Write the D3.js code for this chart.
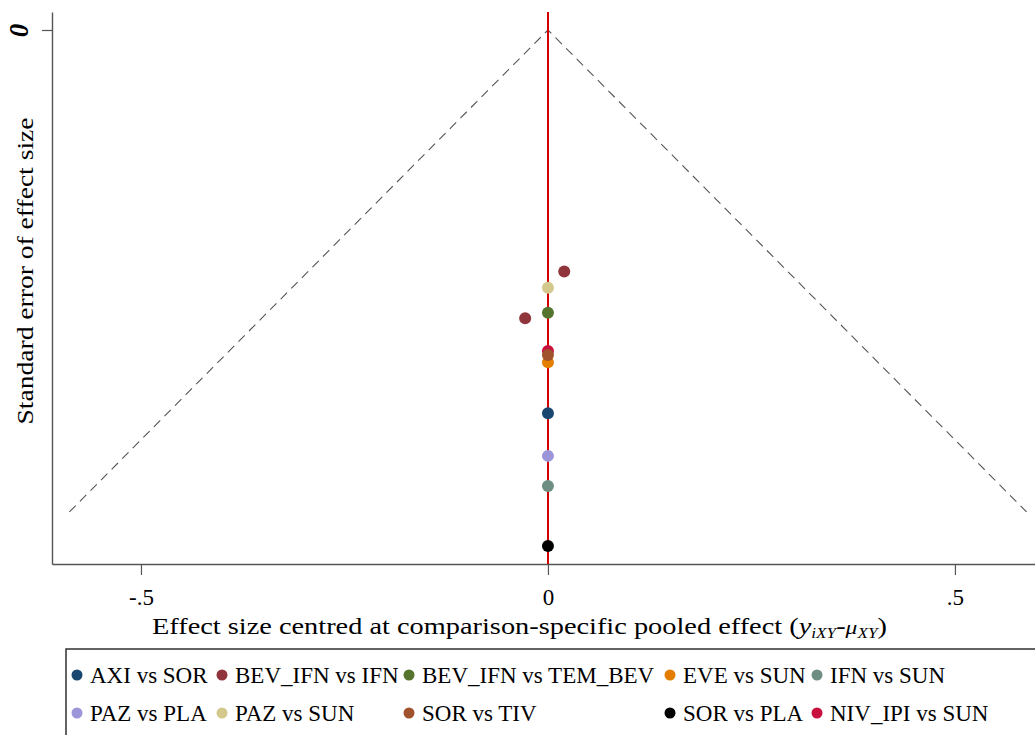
<!DOCTYPE html>
<html>
<head>
<meta charset="utf-8">
<script src="https://cdn.jsdelivr.net/npm/d3@7"></script>
<style>
  html, body { margin: 0; padding: 0; background: #fff; }
  svg { display: block; }
  svg text { font-family: "Times New Roman", Times, "Liberation Serif", Tinos, serif; }
</style>
</head>
<body>
<svg id="chart" width="1035" height="735"></svg>
<script>
// Comparison-adjusted funnel plot: effect sizes centred at each comparison's pooled effect
const comparisons = ["AXI vs SOR", "BEV_IFN vs IFN", "BEV_IFN vs TEM_BEV", "EVE vs SUN", "IFN vs SUN",
                     "PAZ vs PLA", "PAZ vs SUN", "SOR vs TIV", "SOR vs PLA", "NIV_IPI vs SUN"];
const colors = ["#1a476f", "#90353b", "#55752f", "#e37e00", "#6e8e84",
                "#9b96d9", "#d3c98c", "#a0522d", "#000000", "#c8103e"];
// centred effect (x) and standard error (y) of each study, per comparison
const effects = [[0], [0.020, -0.028], [0], [0], [0], [0], [0], [0], [0], [0]];
const stdErrors = [[0.2386], [0.1504, 0.1794], [0.1760], [0.2068], [0.2838],
                   [0.2651], [0.1604], [0.2023], [0.3212], [0.1998]];
const xTicks = [-0.5, 0, 0.5];
const xTickLabels = ["-.5", "0", ".5"];
const yTicks = [0];
const yTickLabels = ["0"];
const funnelMaxSE = 0.30;
// plot order (the NIV_IPI points sit beneath SOR vs TIV)
const drawOrder = [0, 1, 2, 3, 4, 5, 6, 9, 7, 8];

const svg = d3.select("#chart");
const x = d3.scaleLinear().domain([-0.6093, 0.6045]).range([52, 1040]);
const y = d3.scaleLinear().domain([-0.0112, 0.3324]).range([12, 564]);

// x axis
const xAxis = svg.append("g")
  .attr("transform", `translate(0,${y(0.3324)})`)
  .call(d3.axisBottom(x).tickValues(xTicks).tickSize(11).tickSizeOuter(0).tickPadding(14)
        .tickFormat((d, i) => xTickLabels[i]));
xAxis.attr("font-family", null);
xAxis.select(".domain").attr("stroke", "#555").attr("stroke-width", 1.4);
xAxis.selectAll(".tick line").attr("stroke", "#555").attr("stroke-width", 1.2);
xAxis.selectAll(".tick text").attr("fill", "#000").style("font-size", "23px");

// y axis
const yAxis = svg.append("g")
  .attr("transform", `translate(${x(-0.6093)},0)`)
  .call(d3.axisLeft(y).tickValues(yTicks).tickSize(10).tickSizeOuter(0)
        .tickFormat((d, i) => yTickLabels[i]));
yAxis.attr("font-family", null);
yAxis.select(".domain").attr("stroke", "#555").attr("stroke-width", 1.4);
yAxis.selectAll(".tick line").attr("stroke", "#555").attr("stroke-width", 1.2);
yAxis.selectAll(".tick text")
  .attr("x", 0).attr("dy", 0)
  .attr("transform", "translate(-33,0) rotate(-90)")
  .attr("text-anchor", "middle").attr("dominant-baseline", "central")
  .attr("fill", "#000")
  .style("font-size", "27px").style("font-style", "italic").style("font-weight", "bold");

// pseudo 95% confidence funnel
const funnel = [[-1.96 * funnelMaxSE, funnelMaxSE], [0, 0], [1.96 * funnelMaxSE, funnelMaxSE]];
svg.append("path")
  .attr("d", d3.line().x(d => x(d[0])).y(d => y(d[1]))(funnel))
  .attr("fill", "none").attr("stroke", "#555").attr("stroke-width", 1.1)
  .attr("stroke-dasharray", "9,6");

// zero line
svg.append("line")
  .attr("x1", x(0)).attr("x2", x(0)).attr("y1", y(-0.0112)).attr("y2", y(0.3324))
  .attr("stroke", "#d40000").attr("stroke-width", 1.2).attr("shape-rendering", "crispEdges");

// study points
drawOrder.forEach(k => {
  svg.append("g").selectAll("circle")
    .data(effects[k].map((e, i) => [e, stdErrors[k][i]]))
    .join("circle")
    .attr("cx", d => x(d[0])).attr("cy", d => y(d[1])).attr("r", 6)
    .attr("fill", colors[k]);
});

// axis titles (glyphs stretched to the title widths)
svg.append("text")
  .attr("transform", "translate(33,271) rotate(-90)")
  .attr("text-anchor", "middle")
  .attr("textLength", 307).attr("lengthAdjust", "spacingAndGlyphs")
  .style("font-size", "23px")
  .text("Standard error of effect size");

const xt = svg.append("text").attr("x", 152).attr("y", 634).style("font-size", "23px");
xt.append("tspan").text("Effect size centred at comparison-specific pooled effect (");
xt.append("tspan").attr("font-style", "italic").text("y");
xt.append("tspan").attr("font-style", "italic").attr("font-size", "14px").attr("dy", 4).text("iXY");
xt.append("tspan").attr("dy", -4).text("-");
xt.append("tspan").attr("font-style", "italic").attr("font-size", "19px").text("μ");
xt.append("tspan").attr("font-style", "italic").attr("font-size", "14px").attr("dy", 4).text("XY");
xt.append("tspan").attr("dy", -4).text(")");
xt.attr("textLength", 735).attr("lengthAdjust", "spacingAndGlyphs");

// legend
svg.append("rect")
  .attr("x", 66).attr("y", 649).attr("width", 990).attr("height", 120)
  .attr("fill", "none").attr("stroke", "#222").attr("stroke-width", 1.4);
const colX = [77, 222, 409, 670, 817];
const rowY = [675, 713];
comparisons.forEach((name, i) => {
  const cx = colX[i % 5], cy = rowY[Math.floor(i / 5)];
  svg.append("circle").attr("cx", cx).attr("cy", cy).attr("r", 5.5).attr("fill", colors[i]);
  svg.append("text").attr("x", cx + 13).attr("y", cy + 8)
    .style("font-size", "23px").text(name);
});
</script>
</body>
</html>
